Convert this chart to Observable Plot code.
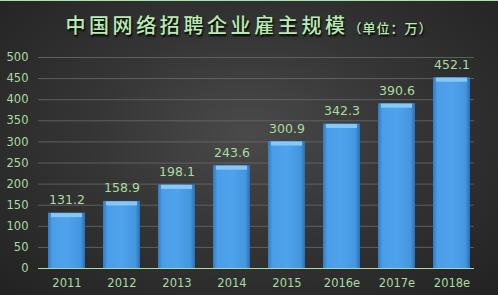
<!DOCTYPE html>
<html><head><meta charset="utf-8">
<script src="https://cdn.jsdelivr.net/npm/d3@7"></script>
<script src="https://cdn.jsdelivr.net/npm/@observablehq/plot@0.6"></script>
<style>
html,body{margin:0;padding:0;}
#wrap{position:relative;width:498px;height:295px;overflow:hidden;box-sizing:border-box;border-top:1px solid #a8e6a8;
background:radial-gradient(ellipse at 50% 45%, #4a4a4a 0%, #353535 45%, #222 100%);font-family:"Noto Sans CJK SC","Noto Sans",sans-serif;}
#title{position:absolute;top:10px;left:0;width:498px;text-align:center;color:#b8ecb0;font-size:20px;font-weight:500;letter-spacing:3.6px;text-shadow:1px 2px 2px #000;line-height:28px;}
#title small{font-size:13px;letter-spacing:1px;}
#chart{position:absolute;top:44px;left:0;}
</style></head>
<body><div id="wrap"><div id="title">中国网络招聘企业雇主规模<small>（单位：万）</small></div><div id="chart"></div></div>
<script>
const years = ["2011","2012","2013","2014","2015","2016e","2017e","2018e"];
const values = [131.2,158.9,198.1,243.6,300.9,342.3,390.6,452.1];
const yTicks = [0,50,100,150,200,250,300,350,400,450,500];
const data = years.map((y,i)=>({year:y,value:values[i]}));
const green = "#a8dca0";
const plot = Plot.plot({
  width:498, height:250,
  marginLeft:36, marginRight:16, marginTop:12, marginBottom:27,
  style:{background:"transparent", fontFamily:"'DejaVu Sans',sans-serif", fontSize:"11.5px", color:green},
  x:{domain:years, paddingInner:0.335, paddingOuter:0.1675, label:null, tickSize:0, tickPadding:10},
  y:{domain:[0,500], ticks:yTicks, label:null, tickSize:0, tickPadding:8},
  marks:[
    () => {
      const s = d3.create("svg:defs");
      const g = s.append("linearGradient").attr("id","barg").attr("x1","0").attr("x2","1").attr("y1","0").attr("y2","0");
      g.append("stop").attr("offset","0").attr("stop-color","#2f7cc4");
      g.append("stop").attr("offset","0.12").attr("stop-color","#4a9de6");
      g.append("stop").attr("offset","0.5").attr("stop-color","#4fa3ec");
      g.append("stop").attr("offset","0.88").attr("stop-color","#4496de");
      g.append("stop").attr("offset","1").attr("stop-color","#2a6fb0");
      return s.node();
    },
    Plot.gridY(yTicks.filter(d=>d>0), {stroke:"#6a6a6a", strokeOpacity:0.8, insetLeft:2, insetRight:8}),
    Plot.barY(data, {x:"year", y:"value", fill:"url(#barg)"}),
    Plot.tickY(data, {x:"year", y:"value", stroke:"#86c8f8", strokeWidth:4, insetLeft:3, insetRight:3, dy:2}),
    Plot.ruleY([0], {stroke:green, strokeWidth:1, insetLeft:2, insetRight:8}),
    Plot.text(data, {x:"year", y:"value", text:d=>d.value.toFixed(1), dy:-13, fill:green, fontSize:12.5})
  ]
});
plot.querySelectorAll("g[aria-label='x-axis tick label'] text, g[aria-label='y-axis tick label'] text").forEach(t=>t.setAttribute("fill",green));
document.getElementById("chart").appendChild(plot);
</script></body></html>
